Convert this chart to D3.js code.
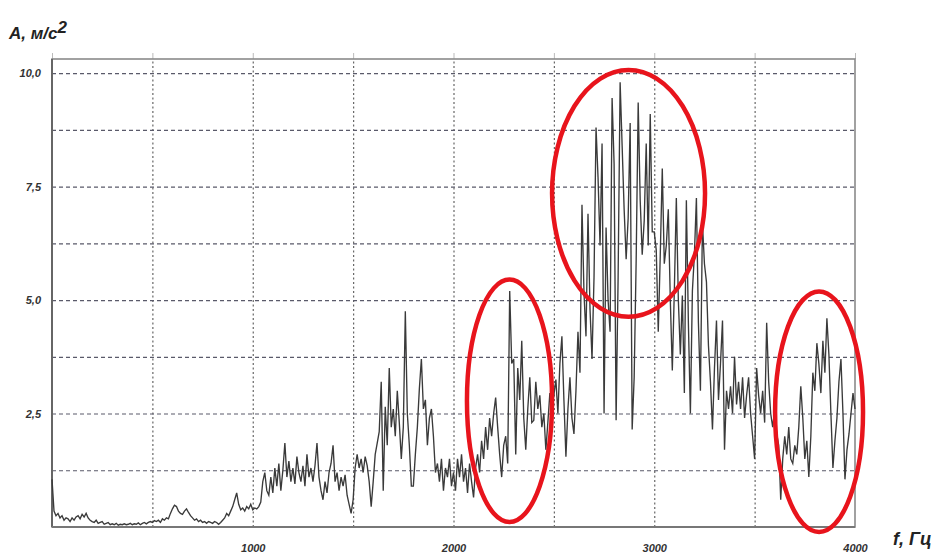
<!DOCTYPE html>
<html>
<head>
<meta charset="utf-8">
<script src="https://cdn.jsdelivr.net/npm/d3@7"></script>
<style>
  html, body { margin: 0; padding: 0; background: #fff; }
  svg { display: block; }
  text { font-family: "Liberation Sans", Arial, sans-serif; font-weight: bold; font-style: italic; }
</style>
</head>
<body>
<svg id="chart" width="950" height="558"></svg>
<script>
// ---- data (frequency step 10 Hz, 0..4000 Hz) ----
const freqStep = 10;
const amplitude = [
  1.05,0.35,0.25,0.3,0.2,0.25,0.15,0.2,0.18,0.12,
  0.2,0.15,0.22,0.25,0.18,0.28,0.22,0.3,0.2,0.15,
  0.12,0.1,0.15,0.08,0.1,0.12,0.06,0.08,0.1,0.05,
  0.07,0.05,0.08,0.04,0.06,0.05,0.07,0.05,0.06,0.08,
  0.05,0.07,0.06,0.09,0.05,0.08,0.1,0.07,0.1,0.12,
  0.1,0.14,0.12,0.15,0.1,0.18,0.15,0.2,0.18,0.3,
  0.4,0.48,0.45,0.35,0.3,0.28,0.35,0.4,0.32,0.25,
  0.2,0.15,0.18,0.12,0.15,0.1,0.12,0.08,0.12,0.1,
  0.08,0.12,0.1,0.06,0.1,0.15,0.2,0.3,0.25,0.35,
  0.45,0.6,0.75,0.5,0.38,0.42,0.35,0.45,0.4,0.5,
  0.38,0.42,0.4,0.45,0.55,1.0,1.2,0.8,0.7,1.1,
  0.75,1.3,0.9,1.4,0.8,1.25,1.85,1.1,1.45,1.0,
  1.3,0.95,1.55,1.2,1.0,1.35,0.9,1.6,1.1,1.3,
  1.0,1.35,1.85,1.1,0.8,0.6,1.0,0.75,1.2,1.4,
  1.8,1.0,1.2,0.8,1.1,0.9,1.15,0.7,0.5,0.3,
  0.6,1.3,1.6,1.3,1.5,1.2,1.55,1.35,1.0,0.45,
  1.0,1.6,1.85,2.1,3.2,0.8,2.65,1.8,3.5,2.2,
  2.6,2.0,3.0,2.3,1.5,2.2,4.75,2.5,1.8,0.9,
  0.9,1.6,2.2,3.05,3.7,2.6,2.8,1.8,2.4,2.6,
  2.0,1.2,1.4,1.0,1.5,0.8,1.3,1.1,1.5,0.9,
  1.2,0.8,1.5,1.1,1.6,1.0,1.3,0.75,1.4,1.0,
  0.65,1.3,1.6,1.2,1.9,1.5,2.2,1.7,2.4,2.0,
  2.5,2.85,2.2,1.6,1.1,1.8,2.0,1.4,5.2,3.6,
  3.7,1.6,3.5,2.8,4.1,2.4,1.7,2.6,3.3,2.3,
  2.35,3.2,2.6,2.9,2.2,2.5,1.7,2.3,2.95,2.6,
  2.9,3.25,2.5,3.6,4.2,2.8,1.55,2.6,3.3,2.4,
  2.05,3.0,4.3,3.4,7.1,5.15,4.2,6.9,4.8,3.7,
  5.5,8.8,7.7,6.2,8.45,2.5,6.6,5.0,4.3,9.45,
  8.0,2.35,5.5,9.8,8.4,7.0,5.9,6.8,8.9,2.15,
  3.3,5.9,9.35,7.2,6.0,6.75,8.45,6.2,9.1,6.5,
  6.5,6.1,4.3,6.0,7.9,5.8,6.2,7.0,5.0,3.45,
  5.2,7.25,5.0,3.8,5.1,2.95,7.2,4.5,2.5,5.2,
  6.0,7.25,4.5,3.0,6.7,5.8,5.4,4.0,3.2,2.15,
  3.5,4.55,2.8,3.6,4.55,1.7,3.0,2.6,3.1,2.5,
  3.75,2.7,3.2,2.6,3.3,2.4,2.9,3.3,2.5,2.0,
  1.5,3.5,2.9,2.5,3.0,2.3,4.5,3.2,2.5,2.2,
  2.6,2.05,1.8,0.6,1.5,2.0,1.6,2.2,1.5,1.4,
  1.8,1.6,2.2,3.1,2.4,1.5,1.9,1.1,2.0,3.4,
  3.0,4.05,3.6,2.95,4.1,3.4,4.6,3.8,2.5,1.3,
  1.9,2.4,3.2,3.7,2.5,1.05,1.7,2.05,2.5,2.95,
  2.6
];
const xTickValues = [1000, 2000, 3000, 4000];
const xGridValues = [500, 1000, 1500, 2000, 2500, 3000, 3500];
const yTickValues = [2.5, 5.0, 7.5, 10.0];
const yGridValues = [1.25, 2.5, 3.75, 5.0, 6.25, 7.5, 8.75, 10.0];
// highlighted regions: centre (Hz, m/s²) and half-widths (Hz, m/s²)
const highlightCf = [2279, 2872, 3821];
const highlightCa = [2.78, 7.35, 2.54];
const highlightRf = [212, 381, 219];
const highlightRa = [2.67, 2.72, 2.65];
const yLabel = "A, м/с";
const xLabel = "f, Гц";

// ---- drawing ----
const svg = d3.select("#chart");
const x = d3.scaleLinear().domain([0, 4000]).range([52, 855]);
const y = d3.scaleLinear().domain([0, 10.31]).range([527, 59]);
const [x0, x1] = x.range();
const [yb, yt] = y.range();

// vertical grid (dotted)
svg.append("g")
  .attr("transform", `translate(0,${yb})`)
  .call(d3.axisBottom(x).tickValues(xGridValues).tickSize(-(yb - yt)).tickFormat(""))
  .call(g => g.select(".domain").remove())
  .call(g => g.selectAll("line").attr("stroke", "#666").attr("stroke-width", 1.2).attr("stroke-dasharray", "2,2.5"));

// small ticks above the frame
svg.append("g")
  .attr("transform", `translate(0,${yt})`)
  .call(d3.axisTop(x).tickValues(xGridValues.concat([0, 4000])).tickSize(6).tickFormat(""))
  .call(g => g.select(".domain").remove())
  .call(g => g.selectAll("line").attr("stroke", "#bbb").attr("stroke-width", 1));

// horizontal grid (dashed)
svg.append("g")
  .attr("transform", `translate(${x0},0)`)
  .call(d3.axisLeft(y).tickValues(yGridValues).tickSize(-(x1 - x0)).tickFormat(""))
  .call(g => g.select(".domain").remove())
  .call(g => g.selectAll("line").attr("stroke", "#5a5a6a").attr("stroke-width", 1.2).attr("stroke-dasharray", "4,3"));

// frame
svg.append("rect")
  .attr("x", x0).attr("y", yt).attr("width", x1 - x0).attr("height", yb - yt)
  .attr("fill", "none").attr("stroke", "#8a8a8a").attr("stroke-width", 1.6);
svg.append("line").attr("x1", x0).attr("x2", x0).attr("y1", yt).attr("y2", yb)
  .attr("stroke", "#666").attr("stroke-width", 2);
svg.append("line").attr("x1", x0).attr("x2", x1).attr("y1", yb).attr("y2", yb)
  .attr("stroke", "#777").attr("stroke-width", 2);

// y tick labels
svg.append("g")
  .attr("transform", `translate(${x0},0)`)
  .call(d3.axisLeft(y).tickValues(yTickValues).tickSize(0).tickPadding(11)
    .tickFormat(d => d3.format(".1f")(d).replace(".", ",")))
  .call(g => g.select(".domain").remove())
  .call(g => g.selectAll("text").attr("font-size", 11).attr("fill", "#333")
    .attr("font-family", "Liberation Sans, Arial, sans-serif").attr("font-weight", "bold").attr("font-style", "italic"));

// x tick labels
svg.append("g")
  .attr("transform", `translate(0,${yb})`)
  .call(d3.axisBottom(x).tickValues(xTickValues).tickSize(0).tickPadding(17).tickFormat(d3.format("d")))
  .call(g => g.select(".domain").remove())
  .call(g => g.selectAll("text").attr("font-size", 11).attr("fill", "#333")
    .attr("font-family", "Liberation Sans, Arial, sans-serif").attr("font-weight", "bold").attr("font-style", "italic"));

// spectrum line
const data = amplitude.map((a, i) => ({ f: i * freqStep, a }));
svg.append("path")
  .datum(data)
  .attr("fill", "none")
  .attr("stroke", "#3a3a3a")
  .attr("stroke-width", 1.35)
  .attr("stroke-linejoin", "miter")
  .attr("d", d3.line().x(d => x(d.f)).y(d => y(d.a)));

// highlight ellipses
svg.append("g").selectAll("ellipse")
  .data(highlightCf.map((cf, i) => ({ cf, ca: highlightCa[i], rf: highlightRf[i], ra: highlightRa[i] })))
  .join("ellipse")
  .attr("cx", d => x(d.cf))
  .attr("cy", d => y(d.ca))
  .attr("rx", d => x(d.cf + d.rf) - x(d.cf))
  .attr("ry", d => y(d.ca - d.ra) - y(d.ca))
  .attr("fill", "none")
  .attr("stroke", "#e8141c")
  .attr("stroke-width", 4.5);

// axis titles
const yt1 = svg.append("text").attr("x", 9).attr("y", 39).attr("font-size", 17).attr("fill", "#222");
yt1.append("tspan").text(yLabel);
yt1.append("tspan").attr("dy", -6).attr("font-size", 17).text("2");

svg.append("text").attr("x", 893).attr("y", 545).attr("font-size", 18).attr("fill", "#222").text(xLabel);
</script>
</body>
</html>
